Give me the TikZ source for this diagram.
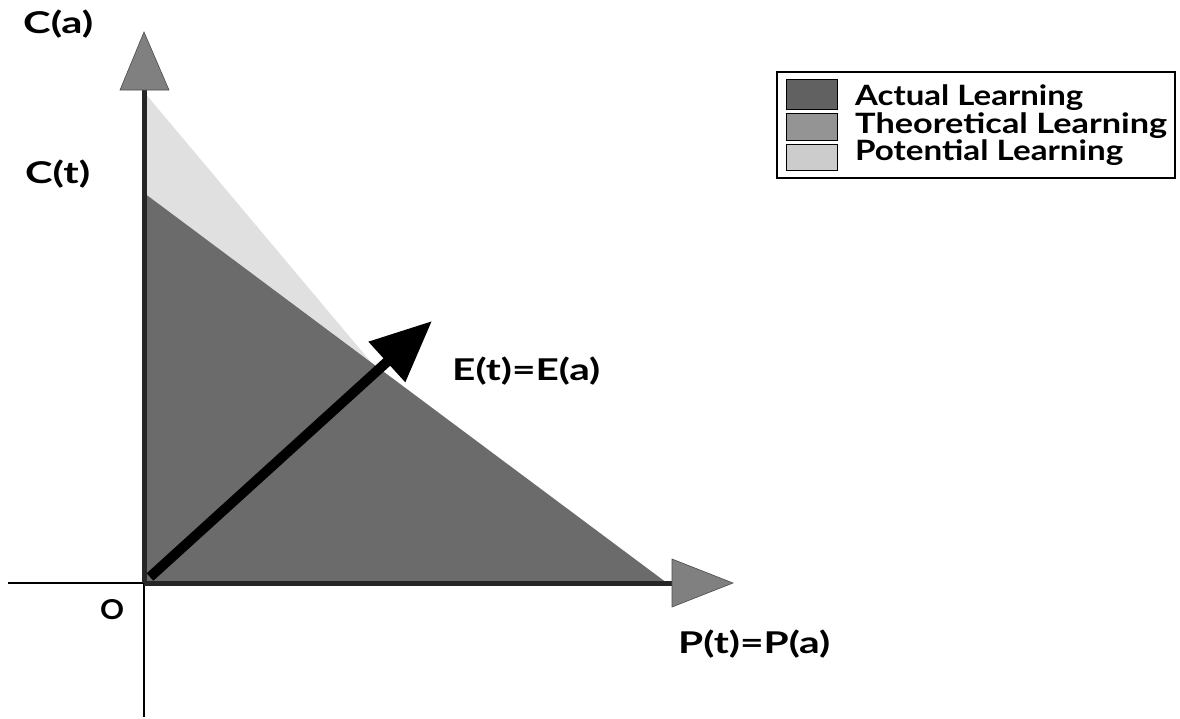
\documentclass[tikz,border=0pt]{standalone}
\usepackage{fontspec}
\setmainfont{Lato}
\usetikzlibrary{arrows.meta}
\newcommand{\fitw}[2]{\resizebox{#1}{\height}{#2}}
\begin{document}
\begin{tikzpicture}[x=1pt,y=-1pt,
  lbl/.style={font=\bfseries\fontsize{30}{33}\selectfont, inner sep=0pt, anchor=base west},
  leg/.style={font=\bfseries\fontsize{28}{30}\selectfont, inner sep=0pt, anchor=base west},
  axisthick/.style={draw=black!85, line width=5pt},
  axisthin/.style={draw=black, line width=1.3pt},
  headfill/.style={fill=black!50, draw=black!70, line width=0.6pt},
  swatch/.style={draw=black, line width=1pt}]
\useasboundingbox (0,0) rectangle (1180,718);
% coordinates
\coordinate (O) at (144,583);
\coordinate (Ytop) at (144,90);
\coordinate (Xend) at (672,583);
\coordinate (Ybot) at (144,717);
\coordinate (Xleft) at (8,583);
\coordinate (Ct) at (144,193);
\coordinate (Pa) at (667,583);
\coordinate (Ca) at (144,92);
\coordinate (Tip) at (370,361);
\coordinate (Eend) at (432,321);
\coordinate (Estart) at (150,577);
% areas
\fill[black!12] (Ca) -- (Ct) -- (Tip) -- cycle;
\fill[black!58] (O) -- (Ct) -- (Pa) -- cycle;
% axes
\draw[axisthin] (Xleft) -- (O) -- (Ybot);
\draw[axisthick] (O) -- (Ytop);
\draw[axisthick] (O) -- (Xend);
\filldraw[headfill] (120,90) -- (169,90) -- (144,32) -- cycle;
\filldraw[headfill] (672,559) -- (672,607) -- (733,583) -- cycle;
% E arrow
\draw[line width=10pt, -{Triangle[length=61pt,width=52pt]}] (Estart) -- (Eend);
% labels
\node[lbl] (lCa) at (23,33) {\fitw{70pt}{C(a)}};
\node[lbl] (lCt) at (25,183) {\fitw{65pt}{C(t)}};
\node[lbl] (lO) at (100,619) {\resizebox{24pt}{20pt}{O}};
\node[lbl] (lE) at (452,380) {\fitw{148pt}{E(t)=E(a)}};
\node[lbl] (lP) at (678,653) {\fitw{152pt}{P(t)=P(a)}};
% legend
\draw[line width=1.5pt] (777,72) rectangle (1175,178);
\filldraw[swatch, fill=black!62] (786,79) rectangle (837,109);
\filldraw[swatch, fill=black!42] (786,113) rectangle (837,140);
\filldraw[swatch, fill=black!20] (786,144) rectangle (837,170);
\node[leg] (l1) at (855,105) {\fitw{228pt}{Actual Learning}};
\node[leg] (l2) at (855,133) {\fitw{312pt}{Theoretical Learning}};
\node[leg] (l3) at (855,160) {\fitw{268pt}{Potential Learning}};
\end{tikzpicture}
\end{document}
